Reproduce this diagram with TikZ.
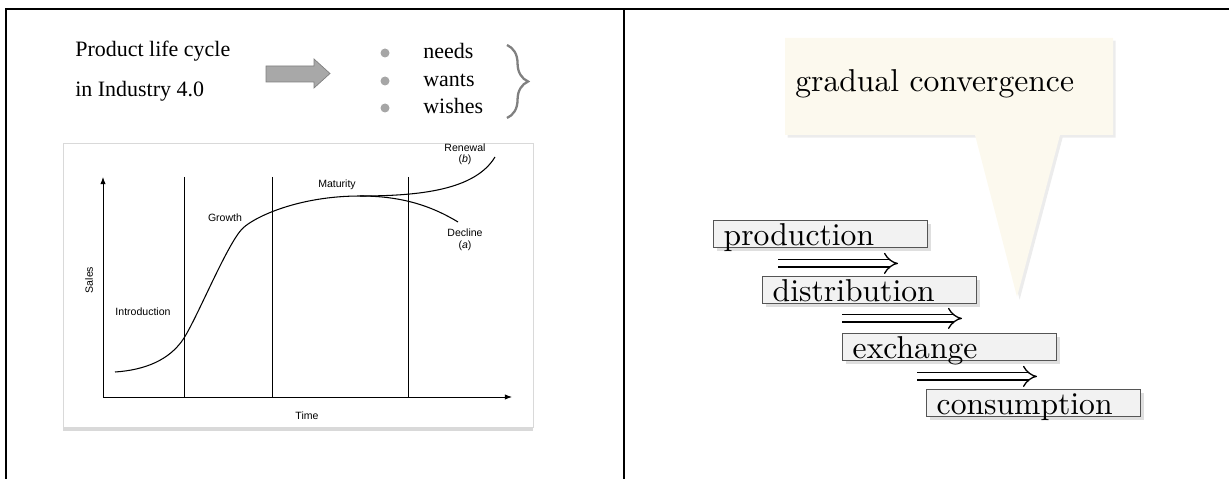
\documentclass[tikz,border=0pt]{standalone}
\usepackage{graphicx}
\usepackage{fontspec}
\newfontfamily\timesfont{Liberation Serif}
\newfontfamily\chartfont{Liberation Sans}
\usetikzlibrary{arrows.meta,calc,shadows,decorations.pathreplacing}
\definecolor{calloutfill}{HTML}{FCF9EE}
\definecolor{boxfill}{HTML}{F2F2F2}
\definecolor{boxline}{HTML}{555555}
\definecolor{blockgray}{HTML}{A8A8A8}
\newcommand{\bigword}[1]{\scalebox{1.8}{#1}}
\tikzset{
  frame/.style={line width=1.4pt},
  lefttext/.style={font=\timesfont\fontsize{12.5}{15}\selectfont, inner sep=0pt, anchor=base west},
  dot/.style={circle, fill=gray!70, inner sep=0pt, minimum size=0.18cm},
  chartlabel/.style={font=\chartfont\fontsize{6}{7}\selectfont, inner sep=0pt},
  stagebox/.style={draw=boxline, fill=boxfill, line width=0.8pt, anchor=north west,
    text width=3.88cm, align=left, inner xsep=0.2cm, inner ysep=0.04cm,
    text height=0.46cm, text depth=0pt, font=\fontsize{10}{12}\selectfont,
    drop shadow={opacity=0.25, shadow xshift=2pt, shadow yshift=-2pt}},
  flow/.style={double, double distance=3.5pt, line width=0.75pt, -{Implies}},
}
\begin{document}
\begin{tikzpicture}[x=0.02cm, y=-0.02cm]
\useasboundingbox (0,0) rectangle (1229,479);
\draw[frame] (6,479) -- (6,9) -- (1229,9);
\draw[frame] (624,9) -- (624,479);

\node[lefttext] (plc) at (75,57) {Product life cycle};
\node[lefttext] (ind) at (75,97) {in Industry 4.0};
\draw[draw=gray, fill=blockgray] (266,66) -- (314,66) -- (314,59) -- (330,73.5) -- (314,88) -- (314,82) -- (266,82) -- cycle;
\foreach \y/\w [count=\i] in {59/needs,87/wants,114/wishes}{
  \node[dot] (dot\i) at (385,\y-6) {};
  \node[lefttext] (w\i) at (423,\y) {\w};
}
\draw[gray, line width=1.3pt, decorate, decoration={brace, amplitude=12pt}] (507,45) -- (507,118);

\draw[draw=gray!30, fill=white, drop shadow={opacity=0.3, shadow xshift=0pt, shadow yshift=-2pt}] (63,143) rectangle (533,427);
\draw[-{Latex[length=4pt,width=3pt]}, line width=0.5pt] (103,397) -- (103,177);
\draw[-{Latex[length=4pt,width=3pt]}, line width=0.5pt] (103,397) -- (512,397);
\foreach \x in {184,272,408}
  \draw[line width=0.5pt] (\x,177) -- (\x,397);
\draw[line width=0.6pt] (115,372) .. controls (145,370) and (170,360) .. (184,338)
  .. controls (198,316) and (228,242) .. (243,228)
  .. controls (256,216) and (300,196) .. (360,196)
  .. controls (420,196) and (475,190) .. (495,157);
\draw[line width=0.6pt] (360,196) .. controls (400,196) and (430,205) .. (458,222);
\node[chartlabel] (intro) at (143,312) {Introduction};
\node[chartlabel] (growth) at (225,218) {Growth};
\node[chartlabel] (mat) at (337,185) {Maturity};
\node[chartlabel] (dec) at (465,233) {Decline};
\node[chartlabel] (deca) at (465,246) {(\textit{a})};
\node[chartlabel] (ren) at (465,148) {Renewal};
\node[chartlabel] (renb) at (465,160) {(\textit{b})};
\node[chartlabel, rotate=90] (sales) at (89,280) {Sales};
\node[chartlabel] (time) at (307,416) {Time};

\fill[calloutfill, drop shadow={opacity=0.15, shadow xshift=1.5pt, shadow yshift=-1.5pt}] (785,38) -- (1113,38) -- (1113,135) -- (1060,135) -- (1017,297) -- (975,135) -- (785,135) -- cycle;
\node[anchor=base west, inner sep=0pt, font=\fontsize{10}{12}\selectfont] (conv) at (795,92) {\bigword{gradual convergence}};

\node[stagebox] (prod) at (713,220) {\bigword{production}};
\node[stagebox] (dist) at (762,276) {\bigword{distribution}};
\node[stagebox] (exch) at (842,333) {\bigword{exchange}};
\node[stagebox] (cons) at (926,389) {\bigword{consumption}};
\draw[flow] ([shift={(65,15)}]prod.south west) -- ++(120,0);
\draw[flow] ([shift={(80,14)}]dist.south west) -- ++(120,0);
\draw[flow] ([shift={(75,15)}]exch.south west) -- ++(120,0);
\end{tikzpicture}
\end{document}
